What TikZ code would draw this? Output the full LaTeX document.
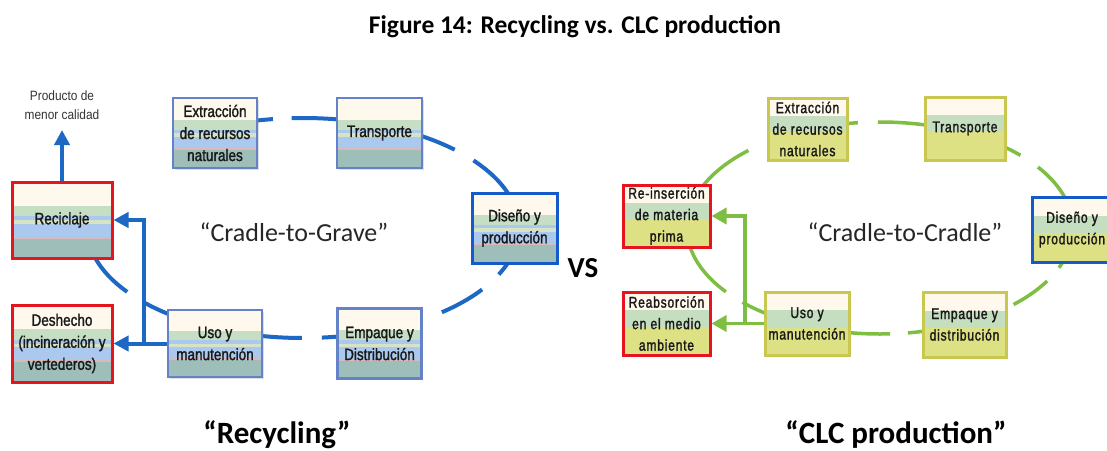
\documentclass[tikz,border=0pt]{standalone}
\usepackage{fontspec}
\setmainfont{Carlito}
\newfontfamily\narrowL[FakeStretch=0.82,FakeBold=1.6]{Liberation Sans}
\newfontfamily\narrowR[FakeStretch=0.78,LetterSpace=5,FakeBold=1.6]{Liberation Sans}
\newfontfamily\narrowS[FakeStretch=0.88]{Liberation Sans}
\usetikzlibrary{arrows.meta,calc,shadows}
\definecolor{lblue}{RGB}{28,104,196}
\definecolor{lgreen}{RGB}{126,190,66}
\definecolor{lcream}{RGB}{255,249,237}
\definecolor{lgreenband}{RGB}{198,223,196}
\definecolor{lblueband}{RGB}{171,201,239}
\definecolor{lpale}{RGB}{214,227,196}
\definecolor{lpink}{RGB}{217,185,185}
\definecolor{lteal}{RGB}{158,190,185}
\definecolor{ryellow}{RGB}{221,224,131}
\definecolor{rgreenband}{RGB}{196,222,191}
\definecolor{lborder}{RGB}{100,130,200}
\definecolor{rborder}{RGB}{200,200,80}
\definecolor{redborder}{RGB}{230,20,30}
\definecolor{disborder}{RGB}{20,90,200}
\newcommand\bandfill[3]{\fill[#1] ($(pNW)!#2!(pSW)$) rectangle ($(pNE)!#3!(pSE)$);}
\newcommand\bandcoords{%
  \coordinate (pNW) at (path picture bounding box.north west);
  \coordinate (pNE) at (path picture bounding box.north east);
  \coordinate (pSW) at (path picture bounding box.south west);
  \coordinate (pSE) at (path picture bounding box.south east);}
\newcommand\larc[2]{\draw[lline] plot[domain=#1:#2,samples=24] ({303+216*cos(\x)},{228+110*sin(\x)});}
\newcommand\rarc[2]{\draw[rline] plot[domain=#1:#2,samples=24] ({880+193*cos(\x)},{228+106*sin(\x)});}
\tikzset{
  boxbase/.style={rectangle, inner sep=1pt, align=center, text=black!90,
    drop shadow={opacity=0.25,shadow xshift=1.5pt,shadow yshift=-1.5pt}},
  lbands/.style={path picture={\bandcoords
    \bandfill{lcream}{0}{0.31}
    \bandfill{lgreenband}{0.31}{0.45}
    \bandfill{lblueband}{0.45}{0.50}
    \bandfill{lpale}{0.50}{0.55}
    \bandfill{lblueband}{0.55}{0.72}
    \bandfill{lpink}{0.72}{0.745}
    \bandfill{lteal}{0.745}{1}}},
  rbands/.style={path picture={\bandcoords
    \bandfill{lcream}{0}{0.29}
    \bandfill{rgreenband}{0.29}{0.55}
    \bandfill{ryellow}{0.55}{1}}},
  lbox/.style={boxbase, lbands, draw=lborder, line width=2.5pt,
    font=\narrowL\fontsize{16.5}{22}\selectfont},
  rbox/.style={boxbase, rbands, draw=rborder, line width=3pt,
    font=\narrowR\fontsize{15.5}{21.5}\selectfont},
  redframe/.style={draw=redborder, line width=3pt},
  disframe/.style={draw=disborder, line width=3pt},
  lline/.style={line width=4pt, color=lblue},
  rline/.style={line width=3.5pt, color=lgreen},
  larrow/.style={line width=4pt, color=lblue, -{Triangle[length=15pt 0 0,width=15pt 0 0]}},
  rarrow/.style={line width=3.5pt, color=lgreen, -{Triangle[length=15pt 0 0,width=16pt 0 0]}},
}
\begin{document}
\begin{tikzpicture}[x=1pt,y=-1pt]
\useasboundingbox (0,0) rectangle (1107,450);
\clip (0,0) rectangle (1107,450);
\fill[white] (0,0) rectangle (1107,450);

% titles
\node[anchor=base, font=\bfseries\fontsize{25.5}{28}\selectfont] (title) at (575,33) {Figure 14: Recycling vs. CLC production};
\node[anchor=base, font=\fontsize{26}{28}\selectfont, text=black!85] (cgrave) at (294,241) {“Cradle-to-Grave”};
\node[anchor=base, font=\fontsize{26}{28}\selectfont, text=black!85] (ccradle) at (905,241) {“Cradle-to-Cradle”};
\node[anchor=base, font=\bfseries\fontsize{29}{30}\selectfont] (vs) at (583,277) {VS};
\node[anchor=base, font=\bfseries\fontsize{31}{32}\selectfont] (lrec) at (277,443) {“Recycling”};
\node[anchor=base, font=\bfseries\fontsize{31}{32}\selectfont] (lclc) at (896,443) {“CLC production”};

% left dashed cycle
\larc{-125}{-98}
\larc{-93}{-70}
\larc{-65}{-45.4}
\larc{-37.9}{-10}
\larc{15}{25}
\larc{34}{50}
\larc{75}{85}
\larc{90.3}{105}
\larc{122}{137.4}
\larc{144.5}{200}

% right dashed cycle
\rarc{-160}{-133}
\rarc{-110}{-96.6}
\rarc{-90.6}{-70}
\rarc{-58}{-43.3}
\rarc{-35.1}{-10}
\rarc{10}{22}
\rarc{30}{46.2}
\rarc{70}{81.7}
\rarc{87}{105}
\rarc{120}{135.5}
\rarc{143}{175}

% left boxes
\node[lbox, minimum width=84pt, minimum height=70pt] (ext) at (215,133) {Extracción\\de recursos\\naturales};
\node[lbox, minimum width=85pt, minimum height=70pt] (trans) at (379.5,133) {Transporte};
\node[lbox, disframe, minimum width=85pt, minimum height=70pt] (dis) at (514.5,228) {Diseño y\\producción};
\node[lbox, minimum width=84pt, minimum height=70pt] (emp) at (379.5,343.5) {Empaque y\\Distribución};
\node[lbox, minimum width=94pt, minimum height=67pt] (uso) at (215,343.5) {Uso y\\manutención};
\node[lbox, redframe, minimum width=100pt, minimum height=76pt] (recic) at (62,220) {Reciclaje};
\node[lbox, redframe, minimum width=100pt, minimum height=77pt] (desh) at (62,343.5) {Deshecho\\(incineración y\\vertederos)};
\node[align=center, inner sep=0pt, text=black!80, font=\narrowS\fontsize{13.5}{19}\selectfont] (prod) at (62,105) {Producto de\\menor calidad};

% right boxes
\node[rbox, minimum width=79pt, minimum height=62pt] (rext) at (807.5,129) {Extracción\\de recursos\\naturales};
\node[rbox, minimum width=80pt, minimum height=63pt] (rtrans) at (965,128.5) {Transporte};
\node[rbox, disframe, minimum width=80pt, minimum height=65pt] (rdis) at (1072,229.5) {Diseño y\\producción};
\node[rbox, minimum width=83pt, minimum height=65pt] (remp) at (964.5,324.5) {Empaque y\\distribución};
\node[rbox, minimum width=84pt, minimum height=63pt] (ruso) at (807,323.5) {Uso y\\manutención};
\node[rbox, redframe, minimum width=87pt, minimum height=62pt] (rreins) at (666.5,216) {Re-inserción\\de materia\\prima};
\node[rbox, redframe, minimum width=87pt, minimum height=63pt] (rreab) at (666.5,323.5) {Reabsorción\\en el medio\\ambiente};

% left arrows
\coordinate (ljoin) at (144,343.5);
\coordinate (ptip) at (62,130);
\draw[larrow] (uso.west) -- (desh.east);
\draw[larrow] (ljoin) |- (recic.east);
\draw[larrow] (recic.north) -- (ptip);

% right arrows
\coordinate (rjoin) at (745,323.5);
\draw[rarrow] (ruso.west) -- (rreab.east);
\draw[rarrow] (rjoin) |- (rreins.east);
\end{tikzpicture}
\end{document}
